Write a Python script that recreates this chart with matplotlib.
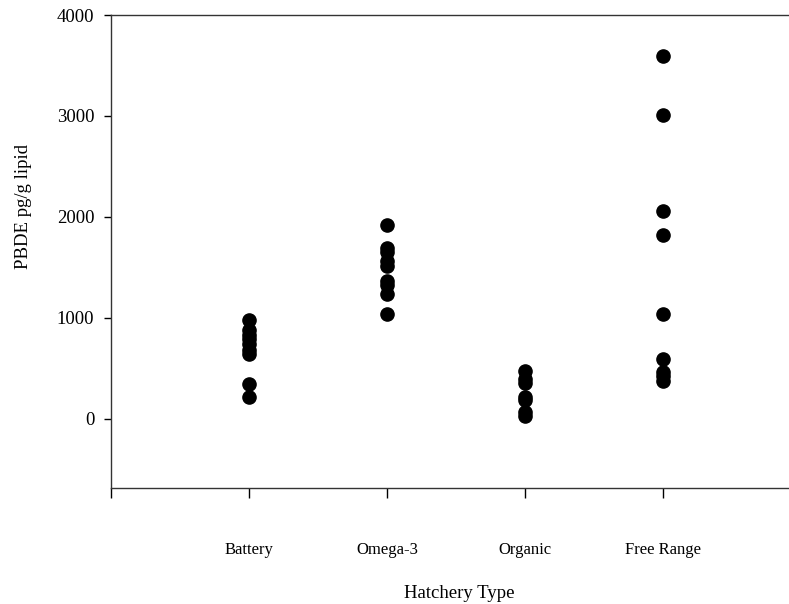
import matplotlib
matplotlib.use('Agg')
import matplotlib.pyplot as plt

plt.rcParams['font.family'] = ['Liberation Serif', 'DejaVu Serif']

categories = ['Battery', 'Omega-3', 'Organic', 'Free Range']
battery = [980, 880, 830, 790, 740, 680, 640, 350, 220]
omega3 = [1920, 1690, 1650, 1560, 1510, 1370, 1330, 1240, 1040]
organic = [470, 390, 360, 220, 190, 70, 30]
free_range = [3590, 3010, 2060, 1820, 1040, 590, 460, 420, 370]
groups = [battery, omega3, organic, free_range]

fig = plt.figure(figsize=(7.89, 6.04), dpi=100)
ax = fig.add_axes([111 / 789, 1 - 487.5 / 604, 690 / 789, (487.5 - 15) / 604])

for i, vals in enumerate(groups):
    ax.plot([i + 1] * len(vals), vals, 'o', color='black', markersize=9.5)

ax.set_xlim(0, 5)
ax.set_ylim(-680, 4000)
ax.set_yticks([0, 1000, 2000, 3000, 4000])
ax.set_xticks([0, 1, 2, 3, 4])
ax.set_xticklabels([''] + categories, fontsize=12)
ax.tick_params(axis='y', direction='out', length=5, width=1, pad=7, labelsize=13.5)
ax.tick_params(axis='x', direction='out', length=7, width=1, pad=32)
for s in ax.spines.values():
    s.set_linewidth(1)
    s.set_color('#333333')
ax.spines['right'].set_visible(False)

fig.text(459 / 789, 1 - 593 / 604, 'Hatchery Type', ha='center', va='center', fontsize=13.5)
fig.text(24 / 789, 1 - 206 / 604, 'PBDE pg/g lipid', ha='center', va='center',
         rotation=90, fontsize=13.5)

fig.savefig('out.png', dpi=100)
